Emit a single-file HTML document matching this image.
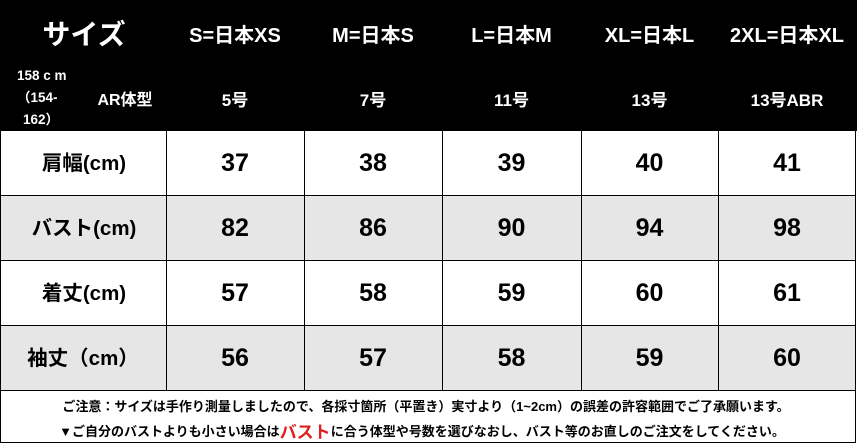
<!DOCTYPE html>
<html><head><meta charset="utf-8">
<style>
html,body{margin:0;padding:0;}
body{width:857px;height:443px;position:relative;overflow:hidden;background:#fff;
font-family:"Liberation Sans","Noto Sans CJK JP",sans-serif;font-weight:bold;}
.a{position:absolute;}
.t{position:absolute;display:flex;align-items:center;justify-content:center;white-space:nowrap;}
.hl{position:absolute;left:0;width:856px;height:1px;background:#000;}
.vl{position:absolute;width:1px;background:#000;}
.w{color:#fff;}
</style></head><body>
<div class="a" style="left:0;top:0;width:857px;height:131px;background:#000;"></div>
<!-- row backgrounds -->
<div class="a" style="left:0;top:196px;width:856px;height:64px;background:#e6e6e6;"></div>
<div class="a" style="left:0;top:326px;width:856px;height:64px;background:#e6e6e6;"></div>
<!-- horizontal lines -->
<div class="hl" style="top:195px"></div>
<div class="hl" style="top:260px"></div>
<div class="hl" style="top:325px"></div>
<div class="hl" style="top:390px"></div>
<div class="hl" style="top:442px"></div>
<!-- vertical lines -->
<div class="vl" style="left:0;top:131px;height:312px"></div>
<div class="vl" style="left:855px;top:131px;height:312px"></div>
<div class="vl" style="left:166px;top:131px;height:259px"></div>
<div class="vl" style="left:304px;top:131px;height:259px"></div>
<div class="vl" style="left:442px;top:131px;height:259px"></div>
<div class="vl" style="left:581px;top:131px;height:259px"></div>
<div class="vl" style="left:718px;top:131px;height:259px"></div>

<!-- header row 1 -->
<div class="t w" style="left:1px;top:13px;width:166px;height:40px;font-size:28px;">サイズ</div>
<div class="t w" style="left:166px;top:13px;width:138px;height:40px;font-size:20px;">S=日本XS</div>
<div class="t w" style="left:304px;top:13px;width:138px;height:40px;font-size:20px;">M=日本S</div>
<div class="t w" style="left:442px;top:13px;width:139px;height:40px;font-size:20px;">L=日本M</div>
<div class="t w" style="left:581px;top:13px;width:137px;height:40px;font-size:20px;">XL=日本L</div>
<div class="t w" style="left:718px;top:13px;width:138px;height:40px;font-size:20px;">2XL=日本XL</div>

<!-- header row 2 -->
<div class="a w" style="left:17px;top:68px;font-size:13.5px;line-height:16px;white-space:nowrap;">158 c m</div>
<div class="a w" style="left:17px;top:90px;font-size:13.5px;line-height:16px;white-space:nowrap;">（154-</div>
<div class="a w" style="left:23px;top:112px;font-size:13.5px;line-height:16px;white-space:nowrap;">162）</div>
<div class="t w" style="left:90px;top:86px;width:70px;height:24px;font-size:16px;">AR体型</div>
<div class="t w" style="left:166px;top:86px;width:138px;height:24px;font-size:17px;">5号</div>
<div class="t w" style="left:304px;top:86px;width:138px;height:24px;font-size:17px;">7号</div>
<div class="t w" style="left:442px;top:86px;width:139px;height:24px;font-size:17px;">11号</div>
<div class="t w" style="left:581px;top:86px;width:137px;height:24px;font-size:17px;">13号</div>
<div class="t w" style="left:718px;top:86px;width:138px;height:24px;font-size:17px;">13号ABR</div>

<!-- body rows -->
<div class="t" style="left:0;top:129px;width:168px;height:64px;font-size:20.5px;">肩幅(cm)</div>
<div class="t" style="left:166px;top:131px;width:138px;height:64px;font-size:25px;">37</div>
<div class="t" style="left:304px;top:131px;width:138px;height:64px;font-size:25px;">38</div>
<div class="t" style="left:442px;top:131px;width:139px;height:64px;font-size:25px;">39</div>
<div class="t" style="left:581px;top:131px;width:137px;height:64px;font-size:25px;">40</div>
<div class="t" style="left:718px;top:131px;width:138px;height:64px;font-size:25px;">41</div>

<div class="t" style="left:0;top:194px;width:168px;height:64px;font-size:20.5px;">バスト(cm)</div>
<div class="t" style="left:166px;top:196px;width:138px;height:64px;font-size:25px;">82</div>
<div class="t" style="left:304px;top:196px;width:138px;height:64px;font-size:25px;">86</div>
<div class="t" style="left:442px;top:196px;width:139px;height:64px;font-size:25px;">90</div>
<div class="t" style="left:581px;top:196px;width:137px;height:64px;font-size:25px;">94</div>
<div class="t" style="left:718px;top:196px;width:138px;height:64px;font-size:25px;">98</div>

<div class="t" style="left:0;top:259px;width:168px;height:64px;font-size:20.5px;">着丈(cm)</div>
<div class="t" style="left:166px;top:261px;width:138px;height:64px;font-size:25px;">57</div>
<div class="t" style="left:304px;top:261px;width:138px;height:64px;font-size:25px;">58</div>
<div class="t" style="left:442px;top:261px;width:139px;height:64px;font-size:25px;">59</div>
<div class="t" style="left:581px;top:261px;width:137px;height:64px;font-size:25px;">60</div>
<div class="t" style="left:718px;top:261px;width:138px;height:64px;font-size:25px;">61</div>

<div class="t" style="left:0;top:324px;width:166px;height:64px;font-size:20.5px;">袖丈（cm）</div>
<div class="t" style="left:166px;top:326px;width:138px;height:64px;font-size:25px;">56</div>
<div class="t" style="left:304px;top:326px;width:138px;height:64px;font-size:25px;">57</div>
<div class="t" style="left:442px;top:326px;width:139px;height:64px;font-size:25px;">58</div>
<div class="t" style="left:581px;top:326px;width:137px;height:64px;font-size:25px;">59</div>
<div class="t" style="left:718px;top:326px;width:138px;height:64px;font-size:25px;">60</div>

<!-- footer -->
<div class="t" style="left:-2px;top:395px;width:856px;height:20px;font-size:13px;">ご注意：サイズは手作り測量しましたので、各採寸箇所（平置き）実寸より（1~2cm）の誤差の許容範囲でご了承願います。</div>
<div class="t" style="left:-6px;top:419px;width:856px;height:22px;font-size:13px;">▼ご自分のバストよりも小さい場合は<span style="color:#e02020;font-size:17px;">バスト</span>に合う体型や号数を選びなおし、バスト等のお直しのご注文をしてください。</div>
</body></html>
